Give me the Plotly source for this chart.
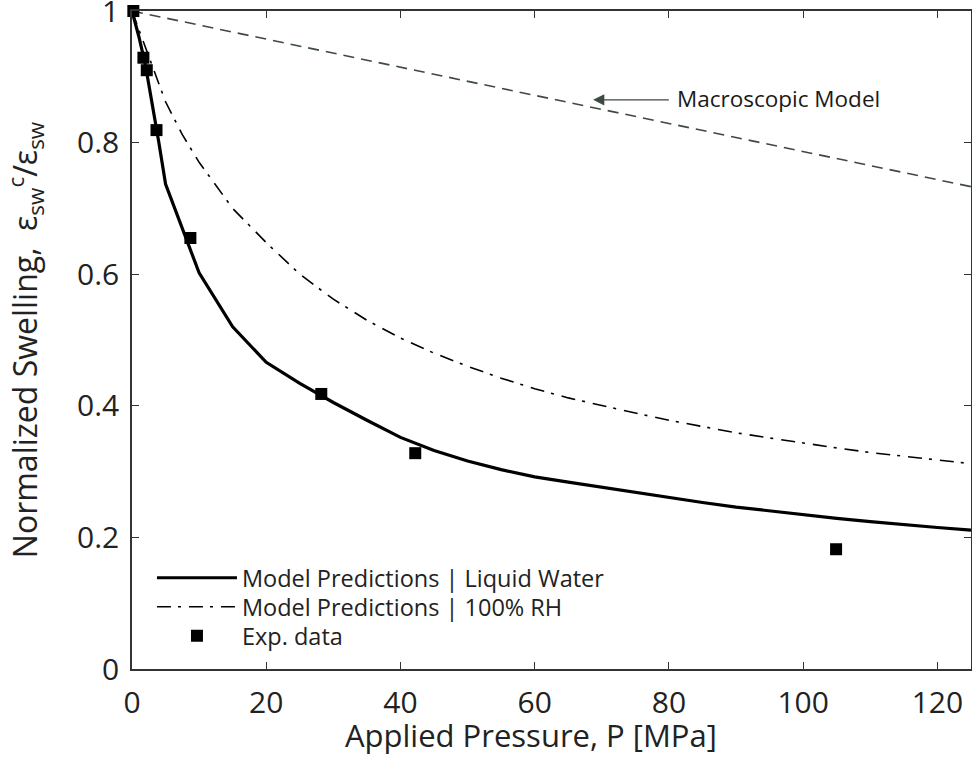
import plotly.graph_objects as go

# ---- data ----
p_liquid = [0, 1, 2, 3, 4, 5, 10, 15, 20, 25, 30, 35, 40, 45, 50, 55, 60, 65, 70, 75,
            80, 85, 90, 95, 100, 105, 110, 115, 120, 125]
s_liquid = [1.0, 0.962, 0.918, 0.862, 0.80, 0.737, 0.602, 0.520, 0.466, 0.434, 0.405, 0.378,
            0.352, 0.332, 0.316, 0.303, 0.292, 0.284, 0.276, 0.268, 0.260, 0.253, 0.246,
            0.240, 0.234, 0.229, 0.224, 0.219, 0.215, 0.211]

p_rh = [0, 2.5, 5, 7.5, 10, 15, 20, 25, 30, 35, 40, 45, 50, 55, 60, 65, 70, 75, 80, 85,
        90, 95, 100, 105, 110, 115, 120, 125]
s_rh = [1.0, 0.93, 0.862, 0.812, 0.77, 0.70, 0.648, 0.600, 0.562, 0.530, 0.503, 0.480,
        0.460, 0.442, 0.426, 0.412, 0.400, 0.389, 0.378, 0.368, 0.359, 0.351, 0.343,
        0.336, 0.329, 0.323, 0.317, 0.312]

p_macro = [0, 125]
s_macro = [1.0, 0.733]

p_exp = [0.2, 1.7, 2.2, 3.65, 8.7, 28.2, 42.2, 104.9]
s_exp = [1.0, 0.929, 0.910, 0.819, 0.655, 0.418, 0.328, 0.182]

x_ticks = [0, 20, 40, 60, 80, 100, 120]
y_ticks = [0, 0.2, 0.4, 0.6, 0.8, 1]
y_tick_text = ["0", "0.2", "0.4", "0.6", "0.8", "1"]

FONT = "Open Sans"
TXT = "#222222"

fig = go.Figure()
fig.add_trace(go.Scatter(x=p_macro, y=s_macro, mode="lines", showlegend=False,
                         cliponaxis=False,
                         line=dict(color="#3d4a3f", width=1.6, dash="11px,7px")))
fig.add_trace(go.Scatter(x=p_liquid, y=s_liquid, mode="lines",
                         name="Model Predictions | Liquid Water", cliponaxis=False,
                         legend="legend",
                         line=dict(color="black", width=3.2)))
fig.add_trace(go.Scatter(x=p_rh, y=s_rh, mode="lines",
                         name="Model Predictions | 100% RH", cliponaxis=False,
                         legend="legend2",
                         line=dict(color="black", width=1.6, dash="14px,7px,3px,8px")))
fig.add_trace(go.Scatter(x=p_exp, y=s_exp, mode="markers", name="Exp. data",
                         cliponaxis=False, legend="legend3",
                         marker=dict(symbol="square", size=12, color="black")))

fig.add_annotation(x=68.7, y=0.865, ax=80.2, ay=0.865, axref="x", ayref="y",
                   text="", showarrow=True, arrowhead=2, arrowsize=1.6,
                   arrowwidth=1.4, arrowcolor="#3d4a3f")
fig.add_annotation(x=80.9, y=0.867, xanchor="left", yanchor="middle",
                   text="Macroscopic Model", showarrow=False,
                   font=dict(family=FONT, size=22.5, color="#1a1a1a"))

# x-axis title (placed slightly left of centre, as in the reference)
fig.add_annotation(x=0.4756, y=-0.1, xref="paper", yref="paper",
                   xanchor="center", yanchor="middle", showarrow=False,
                   text="Applied Pressure, P [MPa]",
                   font=dict(family=FONT, size=31, color=TXT))

axis_common = dict(showline=True, linecolor="#333333", linewidth=1.5, mirror="ticks",
                   ticks="inside", ticklen=7, tickwidth=1.3, tickcolor="#333333",
                   showgrid=False, zeroline=False, ticklabeloverflow="allow",
                   automargin=False,
                   tickfont=dict(family=FONT, size=30, color=TXT))

fig.update_xaxes(range=[0, 125], tickvals=x_ticks, ticklabelstandoff=6,
                 **axis_common)
fig.update_yaxes(range=[0, 1], tickvals=y_ticks, ticktext=y_tick_text,
                 ticklabelstandoff=5,
                 title=dict(text="Normalized Swelling,  ε<sub>sw</sub><sup>c</sup>/ε<sub>sw</sub>",
                            standoff=38,
                            font=dict(family=FONT, size=32, color=TXT)),
                 **axis_common)

legend_common = dict(x=0.0238, xanchor="left", yanchor="middle",
                     bgcolor="rgba(0,0,0,0)", borderwidth=0, itemwidth=80,
                     font=dict(family=FONT, size=23.5, color=TXT))

fig.update_layout(
    width=972, height=759,
    margin=dict(l=132, r=1, t=11, b=90),
    paper_bgcolor="white", plot_bgcolor="white",
    font=dict(family=FONT, color=TXT),
    legend=dict(y=0.1383, **legend_common),
    legend2=dict(y=0.0942, **legend_common),
    legend3=dict(y=0.0502, **legend_common),
)

fig.write_html("out.html", config={"displayModeBar": False},
               post_script="document.body.style.margin='0';")
